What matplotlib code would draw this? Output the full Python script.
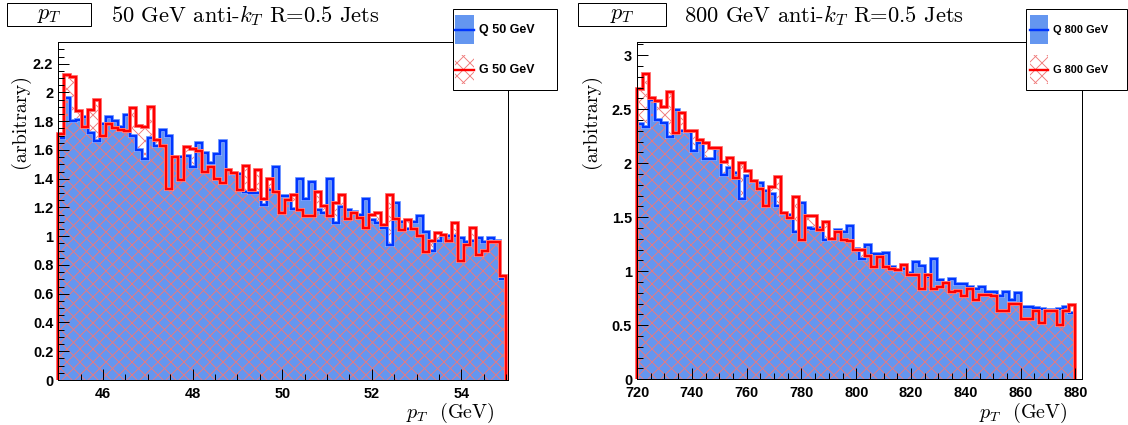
import numpy as np
import matplotlib
matplotlib.use('Agg')
import matplotlib.pyplot as plt
from matplotlib.patches import Rectangle
from matplotlib.lines import Line2D
from matplotlib.collections import LineCollection
from matplotlib.transforms import IdentityTransform
from matplotlib.ticker import MultipleLocator, FuncFormatter

# ---- data ----
q50 = [1.68, 1.96, 1.80, 1.81, 1.83, 1.72, 1.66, 1.78, 1.83, 1.80,
       1.76, 1.84, 1.70, 1.60, 1.54, 1.68, 1.63, 1.74, 1.70, 1.55,
       1.55, 1.56, 1.48, 1.65, 1.58, 1.51, 1.57, 1.66, 1.46, 1.43,
       1.43, 1.31, 1.30, 1.30, 1.22, 1.32, 1.48, 1.28, 1.28, 1.19,
       1.40, 1.26, 1.38, 1.18, 1.16, 1.40, 1.09, 1.20, 1.18, 1.17,
       1.15, 1.26, 1.11, 1.09, 1.06, 0.94, 1.23, 1.10, 1.05, 1.10,
       1.14, 1.03, 0.90, 0.97, 1.00, 1.00, 1.00, 0.99, 0.96, 0.97,
       0.99, 0.96, 0.99, 0.97, 0.70]
g50 = [1.71, 2.12, 2.11, 1.87, 1.76, 1.88, 1.95, 1.70, 1.78, 1.75,
       1.74, 1.73, 1.89, 1.77, 1.76, 1.90, 1.67, 1.63, 1.33, 1.55,
       1.39, 1.62, 1.61, 1.59, 1.45, 1.48, 1.40, 1.37, 1.46, 1.44,
       1.32, 1.49, 1.32, 1.46, 1.26, 1.40, 1.31, 1.16, 1.25, 1.29,
       1.18, 1.14, 1.14, 1.31, 1.21, 1.14, 1.23, 1.29, 1.12, 1.16,
       1.13, 1.06, 1.15, 1.16, 1.08, 1.29, 1.12, 1.04, 1.11, 1.05,
       1.00, 0.89, 0.97, 1.02, 1.01, 0.97, 1.09, 0.83, 0.94, 1.06,
       0.87, 0.90, 0.96, 0.96, 0.72]
q800 = [2.36, 2.34, 2.59, 2.40, 2.37, 2.24, 2.49, 2.30, 2.29, 2.11,
        2.19, 2.04, 2.04, 2.13, 1.89, 1.96, 1.91, 1.67, 1.88, 1.83,
        1.82, 1.74, 1.72, 1.60, 1.53, 1.52, 1.36, 1.63, 1.40, 1.39,
        1.40, 1.29, 1.30, 1.38, 1.36, 1.42, 1.21, 1.11, 1.24, 1.16,
        1.16, 1.17, 1.04, 1.00, 1.02, 0.98, 1.09, 1.05, 0.95, 1.11,
        0.92, 0.88, 0.93, 0.88, 0.88, 0.85, 0.84, 0.85, 0.81, 0.81,
        0.77, 0.81, 0.73, 0.80, 0.67, 0.67, 0.66, 0.65, 0.64, 0.64,
        0.65, 0.67, 0.61]
g800 = [2.69, 2.83, 2.60, 2.58, 2.52, 2.66, 2.28, 2.47, 2.30, 2.30,
        2.22, 2.19, 2.14, 2.14, 2.01, 2.05, 1.86, 2.00, 1.93, 1.84,
        1.76, 1.60, 1.78, 1.87, 1.54, 1.49, 1.69, 1.29, 1.51, 1.51,
        1.38, 1.46, 1.30, 1.36, 1.29, 1.28, 1.20, 1.20, 1.14, 1.04,
        1.13, 1.04, 1.02, 1.01, 1.06, 0.97, 0.97, 0.84, 0.97, 0.84,
        0.85, 0.89, 0.81, 0.82, 0.77, 0.84, 0.73, 0.78, 0.78, 0.77,
        0.63, 0.63, 0.70, 0.70, 0.56, 0.56, 0.63, 0.52, 0.63, 0.63,
        0.50, 0.63, 0.69]

edges50 = np.linspace(45, 55, len(q50) + 1)
edges800 = np.linspace(720, 880, len(q800) + 1)

# colours
QFILL = '#6496f0'
QLINE = '#0036ff'
QHALO = '#8eaeff'
GLINE = '#ff0000'
GHALO = '#ff8c8c'
HATCH = '#f07878'

W, H = 1128, 425
DPI = 72   # 1 pt == 1 px

plt.rcParams['font.family'] = ['Liberation Sans', 'DejaVu Sans']
plt.rcParams['font.weight'] = 'bold'
plt.rcParams['mathtext.fontset'] = 'cm'

fig = plt.figure(figsize=(W / DPI + 1e-6, H / DPI + 1e-6), dpi=DPI)

# diagonal cross-hatch lines in pixel space (ROOT style 3013 look)
STEP = 13
hatch_segs = []
for c in range(-H, W + STEP, STEP):
    hatch_segs.append([(c, 0), (c + H, H)])
    hatch_segs.append([(c, H), (c + H, 0)])


def rect_px(x0, y0, x1, y1):
    # pixel box (from top-left) -> figure fraction [l, b, w, h]
    return [x0 / W, 1 - y1 / H, (x1 - x0) / W, (y1 - y0) / H]


def fpt(x, y):
    return x / W, 1 - y / H


def cm_text(x, y, s, size, **kw):
    fig.text(*fpt(x, y), s, fontsize=size, family=['cmr10', 'DejaVu Serif'],
             weight='normal', **kw)


def panel(box, edges, q, g, xlim, ylim, xmaj, xmin, ymaj, ymin):
    ax = fig.add_axes(rect_px(*box))
    ax.set_xlim(*xlim)
    ax.set_ylim(*ylim)
    ax.stairs(q, edges, baseline=0, fill=True, color=QFILL, lw=0, zorder=1)
    gfill = ax.stairs(g, edges, baseline=0, fill=True, facecolor='none',
                      lw=0, zorder=1.05)
    lc = LineCollection(hatch_segs, colors=HATCH, linewidths=0.9,
                        transform=IdentityTransform(), zorder=1.1)
    ax.add_collection(lc, autolim=False)
    lc.set_clip_path(gfill)
    ax.stairs(q, edges, baseline=0, color=QHALO, lw=4, zorder=1.2, clip_on=False)
    ax.stairs(q, edges, baseline=0, color=QLINE, lw=2.4, zorder=1.3, clip_on=False)
    ax.stairs(g, edges, baseline=0, color=GHALO, lw=4, zorder=1.4, clip_on=False)
    ax.stairs(g, edges, baseline=0, color=GLINE, lw=2.4, zorder=1.5, clip_on=False)
    ax.xaxis.set_major_locator(MultipleLocator(xmaj))
    ax.xaxis.set_minor_locator(MultipleLocator(xmin))
    ax.yaxis.set_major_locator(MultipleLocator(ymaj))
    ax.yaxis.set_minor_locator(MultipleLocator(ymin))
    fmt = FuncFormatter(lambda v, p: '%g' % round(v, 3))
    ax.xaxis.set_major_formatter(fmt)
    ax.yaxis.set_major_formatter(fmt)
    ax.tick_params(which='both', direction='in', top=False, right=False,
                   width=1, color='black', labelsize=14.5)
    ax.tick_params(which='major', length=11)
    ax.tick_params(which='minor', length=6)
    ax.tick_params(axis='x', pad=7)
    ax.tick_params(axis='y', pad=5)
    ax.set_axisbelow(False)
    for sp in ax.spines.values():
        sp.set_linewidth(1)
        sp.set_zorder(3)
    return ax


panel((58.3, 42, 508, 380), edges50, q50, g50, (45, 55.04), (0, 2.351),
      2, 0.5, 0.2, 0.05)
panel((637, 42, 1082, 379.3), edges800, q800, g800, (720, 882.4), (0, 3.123),
      20, 5, 0.5, 0.1)

# axis titles
cm_text(20, 121, '(arbitrary)', 20, rotation=90, ha='center', va='center')
cm_text(591, 121, '(arbitrary)', 20, rotation=90, ha='center', va='center')
cm_text(495, 418, r'$p_T$  (GeV)', 20, ha='right', va='baseline')
cm_text(1068, 418, r'$p_T$  (GeV)', 20, ha='right', va='baseline')

# title boxes and titles
for bx0, bx1, tx, label in [(7, 91, 111, '50 GeV anti-$k_T$ R=0.5 Jets'),
                            (578, 666, 684, '800 GeV anti-$k_T$ R=0.5 Jets')]:
    fig.add_artist(Rectangle(fpt(bx0, 26), (bx1 - bx0) / W, 23 / H,
                             transform=fig.transFigure, fill=False,
                             ec='black', lw=1))
    fig.text(*fpt((bx0 + bx1) / 2, 14), r'$p_T$', fontsize=22,
             ha='center', va='center')
    cm_text(tx, 22, label, 22.5, ha='left', va='baseline')

# legends
for lx0, lx1, sx0, sx1, fs, names in [
        (453, 557, 455, 474, 12.5, ('Q 50 GeV', 'G 50 GeV')),
        (1026, 1127, 1030, 1048, 11, ('Q 800 GeV', 'G 800 GeV'))]:
    fig.add_artist(Rectangle(fpt(lx0, 90), (lx1 - lx0) / W, 81 / H,
                             transform=fig.transFigure, fc='white',
                             ec='black', lw=1, zorder=5))
    fig.add_artist(Rectangle(fpt(sx0, 44), (sx1 - sx0) / W, 29 / H,
                             transform=fig.transFigure, fc=QFILL, lw=0,
                             zorder=6))
    gbox = Rectangle(fpt(sx0, 84), (sx1 - sx0) / W, 29 / H,
                     transform=fig.transFigure, fc='none', lw=0, zorder=6)
    fig.add_artist(gbox)
    lc = LineCollection(hatch_segs, colors=HATCH, linewidths=0.9,
                        transform=IdentityTransform(), zorder=6.5)
    fig.add_artist(lc)
    lc.set_clip_path(gbox)
    for yy, col in [(30, QLINE), (70, GLINE)]:
        fig.add_artist(Line2D([sx0 / W, sx1 / W], [1 - yy / H, 1 - yy / H],
                              transform=fig.transFigure, color=col, lw=2.4,
                              zorder=7))
    fig.text(*fpt(sx1 + 5, 30), names[0], fontsize=fs, ha='left',
             va='center', zorder=8)
    fig.text(*fpt(sx1 + 5, 70), names[1], fontsize=fs, ha='left',
             va='center', zorder=8)

fig.savefig('out.png', dpi=DPI)
